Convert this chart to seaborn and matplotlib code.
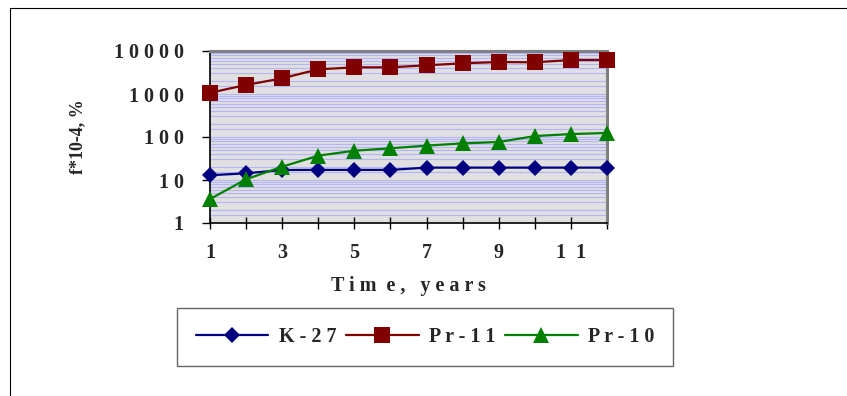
import matplotlib
matplotlib.use("Agg")
import matplotlib.pyplot as plt
import matplotlib.ticker as mticker
from matplotlib.lines import Line2D
import seaborn as sns
import pandas as pd

years = list(range(1, 13))
k27 = [12.9, 14.3, 17.1, 17.2, 17.2, 17.2, 19.4, 19.4, 19.4, 19.4, 19.4, 19.4]
pr11 = [1070, 1620, 2320, 3750, 4170, 4170, 4650, 5170, 5540, 5460, 6170, 6170]
pr10 = [3.6, 10.4, 20.4, 36.8, 48, 54.6, 63, 71, 76.5, 105, 117, 124]
series_names = ["K - 2 7", "P r - 1 1", "P r - 1 0"]
y_ticks = [1, 10, 100, 1000, 10000]
y_tick_labels = ["1", "1 0", "1 0 0", "1 0 0 0", "1 0 0 0 0"]
x_ticks = [1, 3, 5, 7, 9, 11]
x_tick_labels = ["1", "3", "5", "7", "9", "1  1"]

df = pd.DataFrame({
    "year": years * 3,
    "value": k27 + pr11 + pr10,
    "series": [series_names[0]] * 12 + [series_names[1]] * 12 + [series_names[2]] * 12,
})

sns.set_style("white")
plt.rcParams['font.family'] = ['Liberation Serif', 'DejaVu Serif']
plt.rcParams['font.weight'] = 'bold'

W, H = 847, 396
fig = plt.figure(figsize=(W / 100, H / 100), dpi=100)
ax = fig.add_axes([210 / W, 1 - 223 / H, (607 - 210) / W, (223 - 51) / H])
ax.set_facecolor("#E0E0E0")

palette = {series_names[0]: "#000080", series_names[1]: "#800000", series_names[2]: "#008000"}
markers = {series_names[0]: "D", series_names[1]: "s", series_names[2]: "^"}
sns.lineplot(data=df, x="year", y="value", hue="series", style="series",
             palette=palette, markers=markers, dashes=False, ax=ax,
             linewidth=1.6, markersize=10, markeredgewidth=0, clip_on=False, zorder=3)
for ln in ax.lines:
    m = ln.get_marker()
    if m == 's':
        ln.set_markersize(11)
    elif m == '^':
        ln.set_markersize(11.5)
    elif m == 'D':
        ln.set_markersize(8.5)

ax.set_yscale("log")
ax.set_ylim(1, 10000)
ax.set_xlim(1, 12)
ax.yaxis.set_major_locator(mticker.FixedLocator(y_ticks))
ax.yaxis.set_major_formatter(mticker.FixedFormatter(y_tick_labels))
minor_pos = [m * 10 ** d for d in range(4) for m in (1.5, 2, 3, 4, 5, 6, 7, 8, 9)]
ax.yaxis.set_minor_locator(mticker.FixedLocator(minor_pos))
ax.yaxis.set_minor_formatter(mticker.NullFormatter())
ax.set_xticks(years)
ax.set_xticklabels([x_tick_labels[x_ticks.index(y)] if y in x_ticks else "" for y in years])

ax.yaxis.grid(True, which="major", color="#B4B4FA", linewidth=0.8)
ax.yaxis.grid(True, which="minor", color="#B4B4FA", linewidth=0.8)
ax.xaxis.grid(False)
ax.set_axisbelow(True)
ax.tick_params(axis="y", which="major", direction="out", length=6, width=1, color="black",
               labelsize=14.5, pad=13, left=True)
ax.tick_params(axis="y", which="minor", length=0, left=False)
ax.tick_params(axis="x", which="major", direction="inout", length=9, width=1, color="black",
               labelsize=14.5, pad=10, bottom=True)
for lab in ax.get_xticklabels() + ax.get_yticklabels():
    lab.set_fontweight("bold")

for s in ["left", "bottom"]:
    ax.spines[s].set_color("black")
    ax.spines[s].set_linewidth(1.2)
for s in ["top", "right"]:
    ax.spines[s].set_color("#808080")
    ax.spines[s].set_linewidth(2.2)

ax.set_xlabel("T i m  e ,   y e a r s", fontsize=14.5, fontweight="bold", labelpad=9)
ax.set_ylabel("f*10-4, %", fontsize=13, fontweight="bold", labelpad=20)

handles, labels = ax.get_legend_handles_labels()
ax.get_legend().remove()
leg = fig.legend(handles, labels, loc="center", bbox_to_anchor=(425 / W, 1 - 337 / H),
                 ncol=3, frameon=True, fancybox=False, edgecolor="#404040",
                 prop={"size": 14.5, "weight": "bold"}, handlelength=3.6,
                 columnspacing=0.5, handletextpad=0.5, borderpad=0.95)
leg.get_frame().set_linewidth(1.0)

# outer chart frame
fig.add_artist(Line2D([10 / W, 1], [1 - 8 / H, 1 - 8 / H], color="black", linewidth=0.8,
                      transform=fig.transFigure))
fig.add_artist(Line2D([10 / W, 10 / W], [0, 1 - 8 / H], color="black", linewidth=0.8,
                      transform=fig.transFigure))

fig.savefig("out.png", dpi=100)
